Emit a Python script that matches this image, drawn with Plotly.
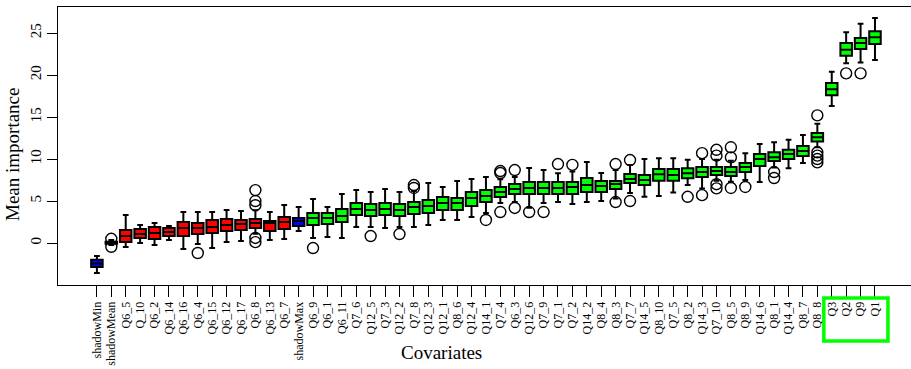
import plotly.graph_objects as go

names = ["shadowMin", "shadowMean", "Q6_5", "Q_10", "Q6_2", "Q6_14", "Q6_16", "Q6_4", "Q6_15",
         "Q6_12", "Q6_17", "Q6_8", "Q6_13", "Q6_7", "shadowMax", "Q6_9", "Q6_1", "Q6_11", "Q7_6",
         "Q12_5", "Q7_3", "Q12_2", "Q7_8", "Q12_3", "Q12_1", "Q8_6", "Q12_4", "Q14_1", "Q7_4",
         "Q6_3", "Q12_6", "Q7_9", "Q7_1", "Q7_2", "Q14_2", "Q8_4", "Q8_3", "Q7_7", "Q14_5",
         "Q8_10", "Q7_5", "Q8_2", "Q14_3", "Q7_10", "Q8_5", "Q8_9", "Q14_6", "Q8_1", "Q14_4",
         "Q8_7", "Q8_8", "Q3", "Q2", "Q9", "Q1"]

decision = (["Shadow"] * 2 + ["Rejected"] * 12 + ["Shadow"] + ["Confirmed"] * 40)

lower = [-3.57, -0.25, -0.48, 0.0, -0.24, 0.36, -0.71, -0.12, -0.6, 0.12, 0.24, 1.1, 0.36, 0.48,
         1.43, 0.6, 0.71, 0.6, 1.9, 1.9, 1.79, 1.9, 1.9, 2.14, 2.74, 2.74, 3.1, 3.57, 4.76,
         4.88, 4.2, 4.76, 4.88, 4.64, 4.88, 5.0, 5.3, 5.95, 5.5, 5.6, 6.0, 6.9, 6.5, 7.4,
         7.3, 7.5, 7.26, 9.0, 8.9, 9.52, 11.4, 16.3, 21.4, 21.5, 21.8]
q1 = [-2.86, -0.1, 0.12, 0.6, 0.48, 0.83, 0.83, 1.07, 1.19, 1.43, 1.55, 1.79, 1.43, 1.67,
      2.02, 2.14, 2.26, 2.5, 3.33, 3.21, 3.33, 3.21, 3.45, 3.57, 3.93, 3.93, 4.4, 4.88, 5.48,
      5.83, 5.83, 5.83, 5.83, 5.83, 6.07, 6.07, 6.43, 7.14, 6.9, 7.4, 7.4, 7.7, 7.86, 8.1,
      7.98, 8.45, 9.17, 9.76, 10.0, 10.36, 12.1, 17.6, 22.3, 23.1, 23.7]
median = [-2.44, 0.05, 0.83, 1.07, 1.19, 1.31, 1.79, 1.79, 1.9, 2.14, 2.26, 2.38, 2.38, 2.5,
          2.62, 2.98, 2.98, 3.21, 4.05, 3.93, 4.05, 3.93, 4.29, 4.4, 4.76, 4.76, 5.36, 5.6, 6.07,
          6.43, 6.55, 6.55, 6.55, 6.67, 6.9, 6.79, 7.02, 7.62, 7.5, 8.2, 8.1, 8.3, 8.45, 8.57,
          8.45, 9.05, 10.0, 10.2, 10.6, 10.95, 12.6, 18.3, 23.0, 23.8, 24.5]
q3 = [-2.0, 0.15, 1.55, 1.67, 1.9, 1.79, 2.5, 2.38, 2.74, 2.86, 2.74, 2.86, 2.62, 3.1,
      2.98, 3.57, 3.57, 4.05, 4.76, 4.64, 4.76, 4.64, 4.88, 5.12, 5.48, 5.36, 6.07, 6.31, 6.67,
      7.02, 7.26, 7.26, 7.26, 7.26, 7.74, 7.38, 7.38, 8.21, 8.1, 8.8, 8.8, 8.9, 9.05, 9.05,
      9.05, 9.52, 10.6, 10.8, 11.1, 11.55, 13.1, 19.05, 23.8, 24.4, 25.2]
upper = [-1.55, 0.35, 3.33, 2.14, 2.38, 2.02, 3.69, 3.69, 3.69, 3.93, 3.81, 3.9, 3.69, 4.52,
         4.29, 5.24, 4.29, 5.83, 6.31, 6.07, 6.43, 6.07, 6.2, 7.14, 6.67, 7.38, 7.62, 7.86, 7.6,
         7.86, 8.93, 8.69, 8.3, 8.5, 9.64, 8.33, 8.7, 9.3, 10.0, 10.1, 10.1, 9.9, 10.0, 9.9,
         9.8, 10.7, 11.8, 12.0, 12.3, 12.86, 14.2, 20.4, 25.1, 26.1, 26.8]

outlier_names = ["shadowMean", "shadowMean", "Q6_4", "Q6_8", "Q6_8", "Q6_8", "Q6_8", "Q6_8",
                 "Q6_9", "Q12_5", "Q12_2", "Q7_8", "Q7_8", "Q14_1", "Q7_4", "Q7_4", "Q7_4",
                 "Q6_3", "Q6_3", "Q12_6", "Q7_9", "Q7_1", "Q7_2", "Q8_3", "Q8_3", "Q7_7", "Q7_7",
                 "Q8_2", "Q14_3", "Q14_3", "Q7_10", "Q7_10", "Q7_10", "Q7_10", "Q8_5", "Q8_5",
                 "Q8_5", "Q8_9", "Q8_1", "Q8_1", "Q8_8", "Q8_8", "Q8_8", "Q8_8", "Q8_8", "Q2", "Q9"]
outlier_values = [0.5, -0.45, -1.19, 6.3, 5.0, 4.5, 0.6, 0.1,
                  -0.6, 0.83, 1.07, 6.9, 6.55, 2.74, 8.57, 8.33, 3.69,
                  8.69, 4.17, 3.69, 3.69, 9.4, 9.3, 9.4, 4.88, 9.88, 5.0,
                  5.5, 10.7, 5.7, 11.1, 10.4, 7.0, 6.5, 11.4, 10.2,
                  6.55, 6.67, 8.45, 7.74, 15.2, 10.8, 10.4, 10.0, 9.6, 20.2, 20.2]

highlighted = ["Q3", "Q2", "Q9", "Q1"]

colors = {"Shadow": "#0000ff", "Rejected": "#ff0000", "Confirmed": "#00ff00"}
pos = {n: i + 1 for i, n in enumerate(names)}

fig = go.Figure()
for dec, col in colors.items():
    idx = [i for i, d in enumerate(decision) if d == dec]
    fig.add_trace(go.Box(
        x=[pos[names[i]] for i in idx],
        lowerfence=[lower[i] for i in idx],
        q1=[q1[i] for i in idx],
        median=[median[i] for i in idx],
        q3=[q3[i] for i in idx],
        upperfence=[upper[i] for i in idx],
        fillcolor=col,
        line=dict(color="black", width=2),
        width=0.8,
        whiskerwidth=0.5,
        boxpoints=False,
        showlegend=False,
        hoverinfo="skip",
    ))

fig.add_trace(go.Scatter(
    x=[pos[n] for n in outlier_names], y=outlier_values, mode="markers",
    marker=dict(symbol="circle-open", size=11, color="black", line=dict(width=1.4)),
    showlegend=False, hoverinfo="skip",
))

serif = "Liberation Serif"
fig.update_layout(
    width=911, height=369,
    margin=dict(l=58, r=0, t=7, b=84, autoexpand=False),
    paper_bgcolor="white", plot_bgcolor="white",
    font=dict(family=serif, color="black"),
    boxmode="overlay",
    xaxis=dict(
        range=[-1.7, 57.5], tickmode="array", automargin=False,
        tickvals=[pos[n] for n in names], ticktext=names,
        tickangle=-90, tickfont=dict(family=serif, size=12, color="black"),
        ticks="outside", ticklen=11, tickwidth=1, tickcolor="black",
        showline=True, linecolor="black", linewidth=1, mirror=True,
        showgrid=False, zeroline=False,
    ),
    yaxis=dict(
        range=[-5.0, 28.1], tickmode="array", tickvals=[0, 5, 10, 15, 20, 25], automargin=False,
        tickangle=-90, tickfont=dict(family=serif, size=15, color="black"),
        ticks="outside", ticklen=10, tickwidth=1, tickcolor="black",
        showline=True, linecolor="black", linewidth=1,
        showgrid=False, zeroline=False,
    ),
)

fig.add_annotation(text="Covariates", xref="paper", yref="paper",
                   x=(441 - 58) / 853, y=(285 - 352) / 278, showarrow=False,
                   xanchor="center", yanchor="middle",
                   font=dict(family=serif, size=19, color="black"))
fig.add_annotation(text="Mean importance", xref="paper", yref="paper",
                   x=(12 - 58) / 853, y=(285 - 155) / 278, showarrow=False, textangle=-90,
                   xanchor="center", yanchor="middle",
                   font=dict(family=serif, size=19, color="black"))

fig.add_shape(type="rect", xref="x", yref="paper",
              x0=pos[highlighted[0]] - 0.55, x1=pos[highlighted[-1]] + 0.9,
              y0=(285 - 341) / 278, y1=(285 - 298) / 278,
              line=dict(color="#00ff00", width=3.5), fillcolor="rgba(0,0,0,0)")

fig.write_html("out.html", config={"displayModeBar": False},
               post_script="document.body.style.margin='0px';document.body.style.overflow='hidden';")
